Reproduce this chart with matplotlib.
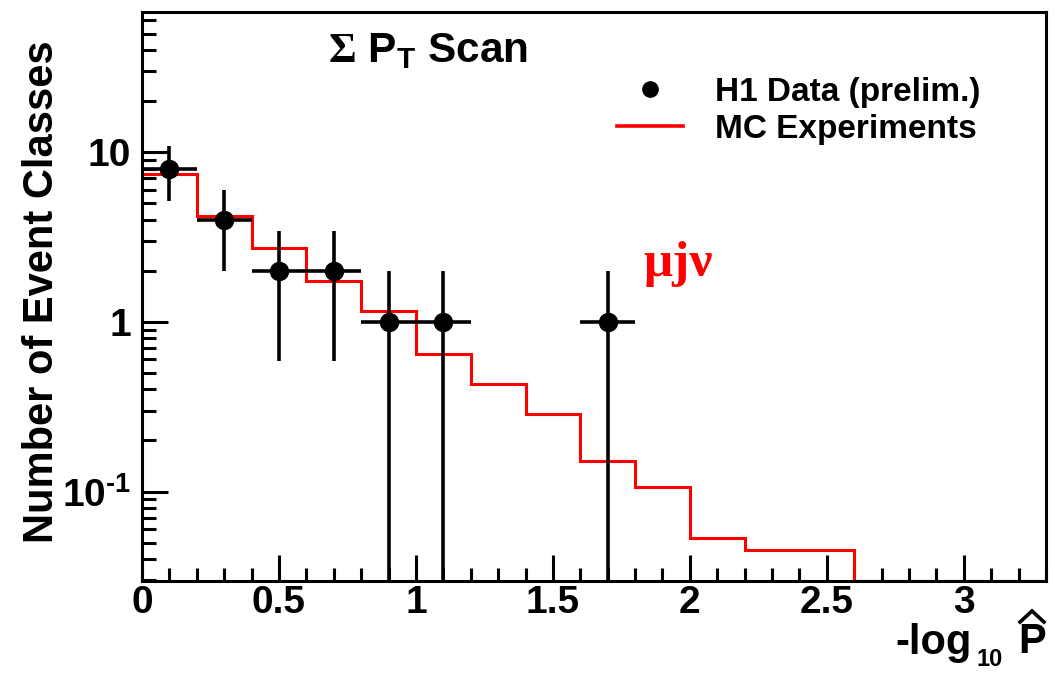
import numpy as np
import matplotlib
matplotlib.use("Agg")
import matplotlib.pyplot as plt
from matplotlib.lines import Line2D
from matplotlib.ticker import FixedLocator, LogLocator, NullFormatter, MultipleLocator

# H1 data: bin centres, number of event classes and their errors
data_x = [0.1, 0.3, 0.5, 0.7, 0.9, 1.1, 1.7]
data_n = [8, 4, 2, 2, 1, 1, 1]
data_err = [2.83, 2.0, 1.41, 1.41, 1.0, 1.0, 1.0]
data_xerr = 0.1

# MC experiments: expected number of event classes per bin
mc_edges = [0.0, 0.2, 0.4, 0.6, 0.8, 1.0, 1.2, 1.4, 1.6, 1.8, 2.0,
            2.2, 2.4, 2.6, 2.8, 3.0, 3.2, 3.4]
mc_values = [7.40, 4.20, 2.71, 1.74, 1.166, 0.65, 0.43, 0.286, 0.152,
             0.107, 0.053, 0.045, 0.045, 0.0, 0.0, 0.0, 0.0]

xticks = [0, 0.5, 1, 1.5, 2, 2.5, 3]
xtick_labels = ["0", "0.5", "1", "1.5", "2", "2.5", "3"]
yticks = [0.1, 1, 10]
ytick_labels = ["$\\mathbf{10^{\u20101}}$", "1", "10"]

xlim = (0.0, 3.3)
ylim = (0.0297, 67.0)

plt.rcParams["font.family"] = ["Liberation Sans", "DejaVu Sans"]
plt.rcParams["font.weight"] = "bold"
plt.rcParams["mathtext.fontset"] = "custom"
plt.rcParams["mathtext.rm"] = "Liberation Serif"
plt.rcParams["mathtext.it"] = "Liberation Sans:bold"
plt.rcParams["mathtext.bf"] = "Liberation Sans:bold"

W, H = 1055, 673
fig = plt.figure(figsize=(W / 100, H / 100), dpi=100)
ax = fig.add_axes([142 / W, 92 / H, (1046 - 142) / W, (581 - 12) / H])


def px(x, y):
    """Pixel position (from top-left) to figure fraction."""
    return x / W, 1 - y / H


ax.set_yscale("log")
ax.set_xlim(*xlim)
ax.set_ylim(*ylim)

# MC histogram (empty bins are drawn on the frame bottom)
mc_draw = np.maximum(np.asarray(mc_values), ylim[0])
ax.stairs(mc_draw, mc_edges, color="#ff0000", lw=2.2, zorder=2, baseline=None)

# data points with errors; errors reaching zero run off the bottom
n = np.asarray(data_n, float)
err = np.asarray(data_err, float)
lo = np.where(n - err > 0, err, n - 1e-4)
ax.errorbar(data_x, data_n, xerr=data_xerr, yerr=[lo, err], fmt="o",
            color="black", ms=13, elinewidth=2.6, capsize=0, zorder=3)

# axes styling
for side in ["left", "right", "top", "bottom"]:
    ax.spines[side].set_linewidth(2.2)
ax.xaxis.set_major_locator(FixedLocator(xticks))
ax.set_xticklabels(xtick_labels)
ax.xaxis.set_minor_locator(MultipleLocator(0.1))
ax.yaxis.set_major_locator(FixedLocator(yticks))
ax.set_yticklabels(ytick_labels)
ax.yaxis.set_minor_locator(LogLocator(base=10, subs=np.arange(2, 10)))
ax.yaxis.set_minor_formatter(NullFormatter())
ax.tick_params(which="both", direction="in", top=False, right=False,
               labelsize=28, width=2.2)
ax.tick_params(axis="x", which="major", length=19, pad=3)
ax.tick_params(axis="x", which="minor", length=9.5)
ax.tick_params(axis="y", which="major", length=19, pad=8)
ax.tick_params(axis="y", which="minor", length=10)
for lab in ax.get_xticklabels() + ax.get_yticklabels():
    lab.set_fontweight("bold")

# axis titles
fig.text(*px(42, 292), "Number of Event Classes", fontsize=30,
         fontweight="bold", rotation=90, ha="center", va="center")
fig.text(*px(895, 654), "-log", fontsize=30, fontweight="bold",
         ha="left", va="baseline")
fig.text(*px(976, 666), "10", fontsize=17, fontweight="bold",
         ha="left", va="baseline")
fig.text(*px(1018, 653), "P", fontsize=30, fontweight="bold",
         ha="left", va="baseline")
# circumflex over the P
fig.add_artist(Line2D([1020 / W, 1032 / W, 1044 / W],
                      [1 - 622 / H, 1 - 611 / H, 1 - 622 / H],
                      color="black", lw=2.6, solid_joinstyle="miter"))

# title and annotation
fig.text(*px(328, 62), r"$\Sigma$ $\mathbf{P_{T}}$ Scan",
         fontsize=30.5, fontweight="bold", va="baseline", ha="left")
fig.text(*px(643, 276), "μjν", color="#ff0000", fontsize=37,
         fontweight="bold", family="Liberation Serif", va="baseline",
         ha="left")

# legend
handles = [
    Line2D([], [], ls="none", marker="o", color="black", ms=11),
    Line2D([], [], color="#ff0000", lw=2.6),
]
ax.legend(handles, ["H1 Data (prelim.)", "MC Experiments"],
          loc="upper left", bbox_to_anchor=px(617, 77),
          bbox_transform=fig.transFigure, frameon=False,
          prop={"size": 24, "weight": "bold"}, handlelength=1.98,
          handletextpad=0.96, labelspacing=0.17, borderpad=0,
          borderaxespad=0)

fig.savefig("out.png", dpi=100)
